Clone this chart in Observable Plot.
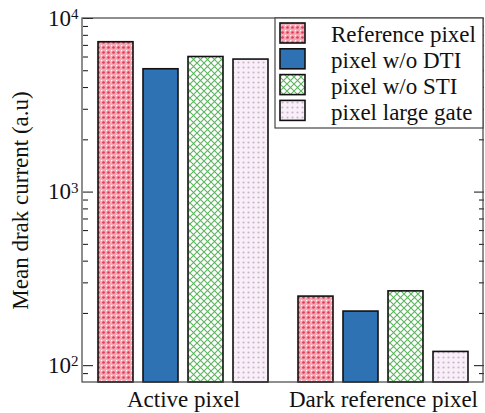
<!DOCTYPE html>
<html>
<head>
<meta charset="utf-8">
<script src="https://cdn.jsdelivr.net/npm/d3@7"></script>
<script src="https://cdn.jsdelivr.net/npm/@observablehq/plot@0.6"></script>
<style>
  body { margin: 0; background: #fff; }
  svg { display: block; }
  #chart svg text, #chart svg tspan { font-family: "Liberation Serif", "Times New Roman", serif !important; }
</style>
</head>
<body>
<div id="chart"></div>
<script>
// Pixel groups along the x axis and the four pixel variants within each group
const groups = ["Active pixel", "Dark reference pixel"];
const series = ["Reference pixel", "pixel w/o DTI", "pixel w/o STI", "pixel large gate"];

// Mean dark current (a.u) per variant
const activeValues = [7300, 5100, 6000, 5800];
const darkValues = [250, 205, 268, 120];

// Log axis: domain, labelled decades and unlabelled minor ticks
const yDomain = [80, 10000];
const majorTicks = [100, 1000, 10000];
const minorTicks = [90, 200, 300, 400, 500, 600, 700, 800, 900,
                    2000, 3000, 4000, 5000, 6000, 7000, 8000, 9000];

// Fill for each variant (patterns are defined in <defs> below)
const fills = ["url(#pat-ref)", "#2f72b4", "url(#pat-sti)", "url(#pat-gate)"];

const rows = groups.flatMap((g, gi) =>
  series.map((s, si) => ({group: g, series: s, value: [activeValues, darkValues][gi][si]}))
);

const W = 485, H = 413;
const mL = 82, mR = 2, mT = 18, mB = 31;
const font = "Liberation Serif";
const txt = {fontFamily: font, fontSize: 23};

const chart = Plot.plot({
  width: W,
  height: H,
  marginLeft: mL,
  marginRight: mR,
  marginTop: mT,
  marginBottom: mB,
  style: {fontFamily: font, fontSize: "23px", color: "#111", background: "#fff"},
  fx: {domain: groups, padding: 0, label: null},
  x: {domain: series, paddingInner: 0.23, paddingOuter: 0.32, axis: null},
  y: {type: "log", domain: yDomain, axis: null},
  color: {domain: series, range: fills},
  marks: [
    Plot.barY(rows, {
      fx: "group", x: "series", y1: yDomain[0], y2: "value",
      fill: "series", stroke: "#111", strokeWidth: 1.6
    }),
    Plot.axisY(minorTicks, {anchor: "left", tickSize: -5, tickFormat: () => "", label: null}),
    Plot.axisY(majorTicks, {
      ...txt,
      anchor: "left", tickSize: -10, tickPadding: 15,
      tickFormat: d => `10^${Math.round(Math.log10(d))}`,
      label: "Mean drak current (a.u)", labelAnchor: "center", labelOffset: 72, labelArrow: "none"
    }),
    Plot.axisY(minorTicks, {anchor: "right", tickSize: -5, tickFormat: () => "", label: null}),
    Plot.axisY(majorTicks, {anchor: "right", tickSize: -10, tickFormat: () => "", label: null}),
    Plot.axisFx({...txt, anchor: "bottom", tickSize: 0, tickPadding: 8, label: null})
  ]
});

const svg = d3.select(chart);

// Hatch / dot patterns for the bar fills
const defs = svg.insert("defs", ":first-child");
const pRef = defs.append("pattern").attr("id", "pat-ref")
  .attr("patternUnits", "userSpaceOnUse").attr("width", 5).attr("height", 5);
pRef.append("rect").attr("width", 5).attr("height", 5).attr("fill", "#f3aab7");
pRef.append("circle").attr("cx", 2.5).attr("cy", 2.5).attr("r", 1.3).attr("fill", "#e23a55");
pRef.append("rect").attr("x", 0).attr("y", 0).attr("width", 1.2).attr("height", 1.2).attr("fill", "#fff");

const pSti = defs.append("pattern").attr("id", "pat-sti")
  .attr("patternUnits", "userSpaceOnUse").attr("width", 7).attr("height", 7);
pSti.append("rect").attr("width", 7).attr("height", 7).attr("fill", "#fff");
pSti.append("path").attr("d", "M0,0L7,7M7,0L0,7")
  .attr("stroke", "#5cb45e").attr("stroke-width", 1.1).attr("fill", "none");

const pGate = defs.append("pattern").attr("id", "pat-gate")
  .attr("patternUnits", "userSpaceOnUse").attr("width", 5).attr("height", 5);
pGate.append("rect").attr("width", 5).attr("height", 5).attr("fill", "#f8eff8");
pGate.append("circle").attr("cx", 2.5).attr("cy", 2.5).attr("r", 1.1).attr("fill", "#cbb5cb");

// Decade labels as 10 with a raised exponent
svg.selectAll("text").each(function () {
  const t = d3.select(this);
  const m = /^10\^(\d+)$/.exec(t.text());
  if (!m) return;
  t.text("10");
  t.append("tspan").attr("dy", "-0.45em").attr("font-size", "15px").text(m[1]);
});

// Box around the whole plotting area
svg.append("rect")
  .attr("x", mL).attr("y", mT)
  .attr("width", W - mL - mR).attr("height", H - mT - mB)
  .attr("fill", "none").attr("stroke", "#444").attr("stroke-width", 1.2);

// Legend in the upper-right corner
const lg = svg.append("g")
  .attr("font-family", font).attr("font-size", 23).attr("fill", "#111")
  .attr("text-anchor", "start");
const lx = 275, ly = mT, lw = W - mR - lx, lh = 110;
lg.append("rect").attr("x", lx).attr("y", ly).attr("width", lw).attr("height", lh)
  .attr("fill", "#fff").attr("stroke", "#444").attr("stroke-width", 1.2);
series.forEach((s, i) => {
  const cy = ly + 15 + i * 25.8;
  lg.append("rect").attr("x", lx + 5).attr("y", cy - 10).attr("width", 25).attr("height", 20)
    .attr("fill", fills[i]).attr("stroke", "#111").attr("stroke-width", 1.6);
  lg.append("text").attr("x", lx + 56).attr("y", cy + 2).attr("dy", "0.32em")
    .attr("text-anchor", "start").text(s);
});

document.getElementById("chart").appendChild(chart);
</script>
</body>
</html>
